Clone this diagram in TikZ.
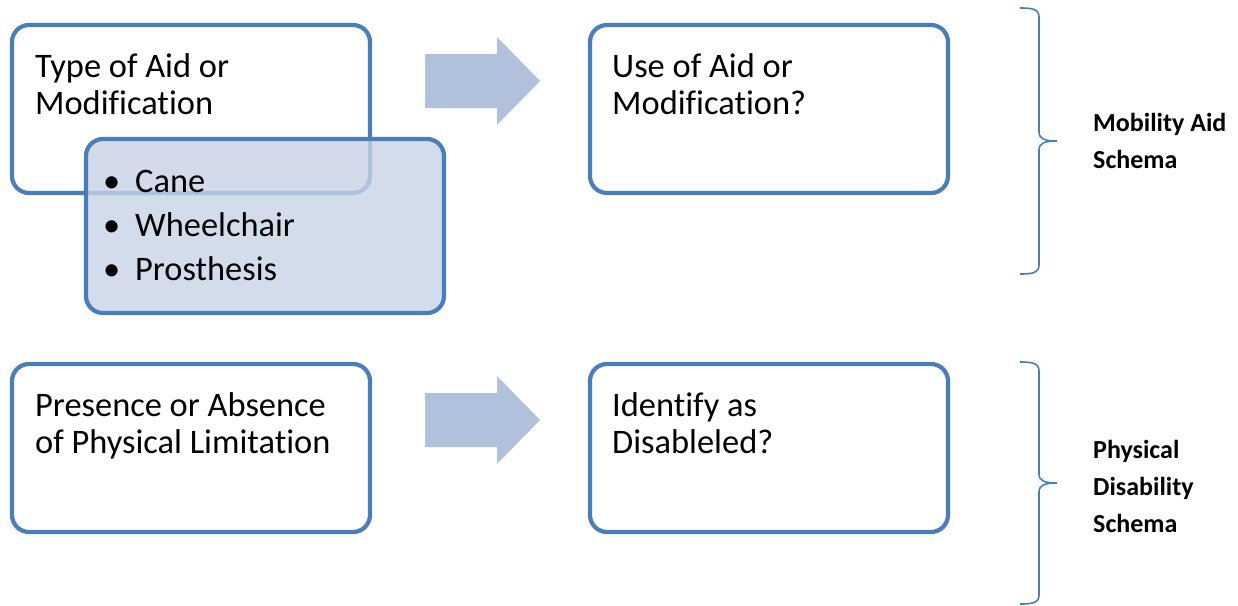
\documentclass[tikz,border=0pt]{standalone}
\usepackage{fontspec}
\setmainfont{Carlito}[Ligatures=CommonOff]
\definecolor{bordblue}{HTML}{4A7EBB}
\definecolor{arrowblue}{HTML}{B2C1DB}
\definecolor{listfill}{HTML}{C8D3E6}
\begin{document}
\begin{tikzpicture}[x=1pt,y=-1pt,
  box/.style={draw=bordblue, line width=4.2pt, rounded corners=17pt, fill=white,
    minimum width=358pt, minimum height=168pt, anchor=north west, inner sep=0pt, outer sep=0pt},
  listbox/.style={box, fill=listfill, fill opacity=0.8, draw opacity=1, minimum height=174pt},
  boxtext/.style={anchor=base west, inner sep=0pt, align=left, font=\fontsize{34.4}{37}\selectfont},
  listtext/.style={anchor=base west, inner sep=0pt, align=left, font=\fontsize{34.4}{44}\selectfont},
  schematext/.style={anchor=base west, inner sep=0pt, align=left, font=\bfseries\fontsize{26}{37}\selectfont},
  bigarrow/.style={fill=arrowblue, draw=none},
  brace/.style={draw=bordblue, line width=1.6pt}
]
\useasboundingbox (0,0) rectangle (1238,605);

% row 1
\node[box] (aidtype) at (12,25) {};
\node[boxtext] (aidtypetext) at (35,114) {Type of Aid or\\Modification};
\node[listbox] (aidlist) at (86,139) {};
\node[listtext] (aidlisttext) at (103,280) {\makebox[32pt][l]{•}Cane\\\makebox[32pt][l]{•}Wheelchair\\\makebox[32pt][l]{•}Prosthesis};
\path[bigarrow] (425,54) -- (497,54) -- (497,37) -- (540,81) -- (497,125) -- (497,108) -- (425,108) -- cycle;
\node[box] (aiduse) at (590,25) {};
\node[boxtext] (aidusetext) at (612,114) {Use of Aid or\\Modification?};

% row 2
\node[box] (limit) at (12,364) {};
\node[boxtext] (limittext) at (35,453) {Presence or Absence\\of Physical Limitation};
\path[bigarrow] (425,393) -- (497,393) -- (497,376) -- (540,420) -- (497,464) -- (497,447) -- (425,447) -- cycle;
\node[box] (ident) at (590,364) {};
\node[boxtext] (identtext) at (612,453) {Identify as\\Disableled?};

% braces
\draw[brace] (1020,8) .. controls (1032,8) and (1039,9) .. (1039,17) -- (1039,132)
  .. controls (1039,139) and (1045,141) .. (1057,141)
  .. controls (1045,141) and (1039,143) .. (1039,150) -- (1039,265)
  .. controls (1039,273) and (1032,274) .. (1020,274);
\node[schematext] (mobility) at (1093,168) {Mobility Aid\\Schema};

\draw[brace] (1020,362) .. controls (1032,362) and (1039,363) .. (1039,371) -- (1039,474)
  .. controls (1039,481) and (1045,483) .. (1057,483)
  .. controls (1045,483) and (1039,485) .. (1039,492) -- (1039,595)
  .. controls (1039,603) and (1032,604) .. (1020,604);
\node[schematext] (physical) at (1093,532) {Physical\\Disability\\Schema};
\end{tikzpicture}
\end{document}
